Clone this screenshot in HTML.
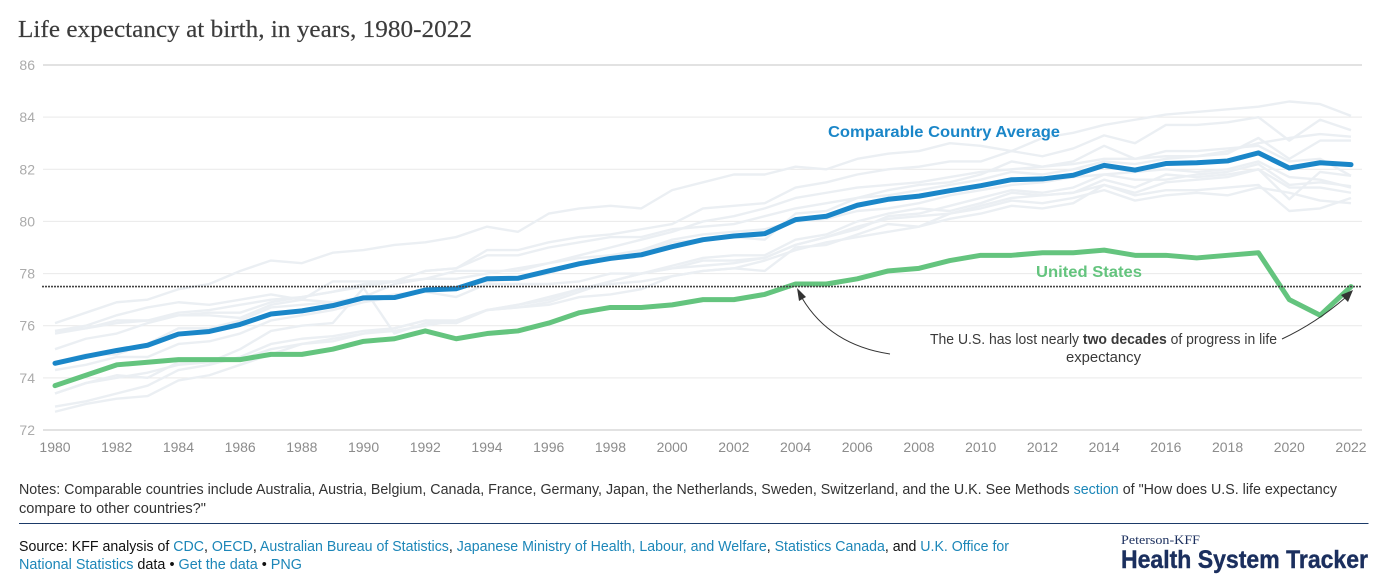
<!DOCTYPE html>
<html lang="en">
<head>
<meta charset="utf-8">
<title>Life expectancy at birth</title>
<style>
html,body{margin:0;padding:0;background:#fff;width:1392px;height:587px;overflow:hidden}
svg{display:block;font-family:"Liberation Sans",sans-serif}
.lnk{fill:#1c86b8}
</style>
</head>
<body>
<svg id="chart" width="1392" height="587" viewBox="0 0 1392 587" xmlns="http://www.w3.org/2000/svg">
  <text x="18" y="37" font-family="'Liberation Serif',serif" font-size="24" fill="#3b3b3b" stroke="#3b3b3b" stroke-width="0.15" textLength="454" lengthAdjust="spacingAndGlyphs">Life expectancy at birth, in years, 1980-2022</text>
  <g id="grid"></g>
  <g id="yticks"></g>
  <g id="xticks"></g>
  <g id="gray"></g>
  <g id="main"></g>
  <g id="ref"></g>
  <text x="828" y="137" font-size="16" font-weight="700" fill="#1a86c8" textLength="232" lengthAdjust="spacingAndGlyphs">Comparable Country Average</text>
  <text x="1036" y="277" font-size="16" font-weight="700" fill="#64c47e" textLength="106" lengthAdjust="spacingAndGlyphs">United States</text>
  <text x="930" y="344" font-size="14.5" fill="#3a3a3a" textLength="347" lengthAdjust="spacingAndGlyphs">The U.S. has lost nearly <tspan font-weight="700">two decades</tspan> of progress in life</text>
  <text x="1066" y="362" font-size="14.5" fill="#3a3a3a" textLength="75" lengthAdjust="spacingAndGlyphs">expectancy</text>
  <g id="arrows"></g>
  <text x="19" y="494" font-size="14.5" fill="#333" textLength="1318" lengthAdjust="spacingAndGlyphs">Notes: Comparable countries include Australia, Austria, Belgium, Canada, France, Germany, Japan, the Netherlands, Sweden, Switzerland, and the U.K. See Methods <tspan class="lnk">section</tspan> of "How does U.S. life expectancy</text>
  <text x="19" y="513" font-size="14.5" fill="#333" textLength="187" lengthAdjust="spacingAndGlyphs">compare to other countries?"</text>
  <rect x="19" y="523" width="1349.5" height="1" fill="#1b3a68"/>
  <text x="19" y="551" font-size="14.5" fill="#111" textLength="990" lengthAdjust="spacingAndGlyphs">Source: KFF analysis of <tspan class="lnk">CDC</tspan>, <tspan class="lnk">OECD</tspan>, <tspan class="lnk">Australian Bureau of Statistics</tspan>, <tspan class="lnk">Japanese Ministry of Health, Labour, and Welfare</tspan>, <tspan class="lnk">Statistics Canada</tspan>, and <tspan class="lnk">U.K. Office for</tspan></text>
  <text x="19" y="569" font-size="14.5" fill="#111" textLength="283" lengthAdjust="spacingAndGlyphs"><tspan class="lnk">National Statistics</tspan> data • <tspan class="lnk">Get the data</tspan> • <tspan class="lnk">PNG</tspan></text>
  <text x="1121" y="544" font-family="'Liberation Serif',serif" font-size="12.5" fill="#1b2f5e" textLength="79" lengthAdjust="spacingAndGlyphs">Peterson-KFF</text>
  <text x="1121" y="568" font-size="25" font-weight="700" fill="#1b2f5e" stroke="#1b2f5e" stroke-width="0.4" textLength="247" lengthAdjust="spacingAndGlyphs">Health System Tracker</text>
</svg>
<script>
const startYear = 1980;
const yTickValues = [86, 84, 82, 80, 78, 76, 74, 72];
const xTickYears = [1980,1982,1984,1986,1988,1990,1992,1994,1996,1998,2000,2002,2004,2006,2008,2010,2012,2014,2016,2018,2020,2022];
const referenceValue = 77.5;

const comparableAverage = [
  74.56,74.82,75.05,75.25,75.68,75.78,76.05,76.45,76.57,76.77,
  77.07,77.08,77.37,77.42,77.80,77.82,78.10,78.38,78.58,78.72,
  79.03,79.30,79.44,79.53,80.07,80.20,80.62,80.85,80.97,81.18,
  81.37,81.60,81.63,81.77,82.15,81.97,82.22,82.25,82.32,82.63,
  82.05,82.25,82.18];
const unitedStates = [
  73.7,74.1,74.5,74.6,74.7,74.7,74.7,74.9,74.9,75.1,
  75.4,75.5,75.8,75.5,75.7,75.8,76.1,76.5,76.7,76.7,
  76.8,77.0,77.0,77.2,77.6,77.6,77.8,78.1,78.2,78.5,
  78.7,78.7,78.8,78.8,78.9,78.7,78.7,78.6,78.7,78.8,
  77.0,76.4,77.5];

const japan = [
  76.1,76.5,76.9,77.0,77.4,77.6,78.1,78.5,78.4,78.8,
  78.9,79.1,79.2,79.4,79.8,79.6,80.3,80.5,80.6,80.5,
  81.2,81.5,81.8,81.8,82.1,82.0,82.4,82.6,82.7,83.0,
  82.9,82.7,83.2,83.4,83.7,83.9,84.1,84.2,84.3,84.4,
  84.6,84.5,84.05];
const switzerland = [
  75.7,75.9,76.2,76.2,76.5,76.6,76.8,77.0,77.1,77.3,
  77.5,77.7,78.1,78.2,78.9,78.9,79.2,79.4,79.5,79.7,
  79.9,80.5,80.6,80.7,81.3,81.5,81.8,82.0,82.1,82.3,
  82.3,82.7,82.5,82.8,83.3,83.0,83.7,83.7,83.8,84.0,
  83.1,83.9,83.5];
const sweden = [
  75.8,76.0,76.4,76.7,76.9,76.8,77.0,77.2,77.0,77.7,
  77.7,77.7,78.1,78.2,78.7,78.7,79.0,79.2,79.4,79.4,
  79.7,79.8,79.9,80.2,80.5,80.7,80.9,81.0,81.2,81.4,
  81.6,81.9,81.8,82.0,82.3,82.2,82.4,82.5,82.6,83.2,
  82.4,83.1,83.1];
const australia = [
  74.6,74.9,74.9,75.3,75.9,75.9,76.2,76.7,76.8,76.9,
  77.1,77.6,77.8,78.1,78.1,78.1,78.4,78.7,79.0,79.3,
  79.6,80.0,80.2,80.5,80.9,81.1,81.3,81.4,81.5,81.7,
  81.9,82.0,82.1,82.2,82.4,82.4,82.5,82.5,82.7,83.0,
  83.2,83.35,83.25];
const canada = [
  75.1,75.5,75.7,76.1,76.4,76.5,76.5,76.9,77.1,77.3,
  77.6,77.7,77.8,77.8,78.0,78.2,78.4,78.6,78.7,78.9,
  79.3,79.5,79.6,79.7,80.0,80.1,80.4,80.5,80.7,81.0,
  81.2,81.4,81.5,81.7,81.8,81.9,82.0,81.9,82.0,82.3,
  81.7,81.6,81.3];
const france = [
  74.3,74.5,74.8,74.8,75.3,75.4,75.7,76.2,76.4,76.6,
  76.9,77.1,77.3,77.4,77.7,77.8,78.0,78.4,78.6,78.8,
  79.2,79.3,79.4,79.3,80.3,80.4,80.9,81.2,81.4,81.5,
  81.8,82.3,82.1,82.3,82.9,82.4,82.7,82.7,82.8,82.9,
  82.3,82.4,81.75];
const netherlands = [
  75.8,75.9,76.1,76.2,76.4,76.4,76.3,76.8,77.0,76.9,
  77.0,77.2,77.3,77.1,77.6,77.6,77.6,77.7,78.0,78.0,
  78.2,78.3,78.4,78.6,79.1,79.4,79.7,80.2,80.3,80.6,
  80.9,81.2,81.1,81.3,81.8,81.6,81.6,81.8,81.9,82.2,
  81.4,81.5,81.35];
const unitedKingdom = [
  73.4,73.8,74.0,74.2,74.5,74.6,74.7,75.1,75.3,75.4,
  75.7,75.9,76.2,76.1,76.6,76.7,76.8,77.1,77.2,77.4,
  77.9,78.1,78.2,78.5,78.9,79.2,79.4,79.6,79.8,80.3,
  80.6,80.9,81.0,81.1,81.4,81.0,81.2,81.2,81.3,81.4,
  80.4,80.5,80.9];
const germany = [
  72.9,73.1,73.4,73.7,74.3,74.5,74.8,75.3,75.5,75.6,
  75.8,75.9,76.2,76.2,76.6,76.7,76.9,77.3,77.7,78.0,
  78.2,78.5,78.5,78.6,79.1,79.4,79.8,80.1,80.2,80.3,
  80.5,80.8,80.7,80.9,81.2,80.8,81.0,81.1,81.0,81.3,
  81.1,80.8,80.7];
const austria = [
  72.7,73.0,73.2,73.3,73.9,74.1,74.5,74.9,75.3,75.5,
  75.7,75.8,76.0,76.2,76.6,76.8,77.1,77.4,77.7,78.0,
  78.3,78.6,78.7,78.7,79.3,79.5,80.0,80.3,80.5,80.4,
  80.7,81.1,81.0,81.1,81.6,81.3,81.8,81.7,81.8,82.0,
  81.3,81.3,81.1];
const belgium = [
  73.4,73.8,74.1,74.0,74.6,74.6,75.1,75.8,76.0,76.1,
  77.45,75.7,76.1,76.1,76.6,76.8,77.0,77.4,77.6,77.7,
  77.9,78.1,78.2,78.1,79.0,79.1,79.5,79.9,79.8,80.1,
  80.3,80.6,80.5,80.7,81.4,81.1,81.5,81.6,81.7,82.0,
  80.85,81.9,81.75];

const grayNames = ['japan','switzerland','sweden','australia','canada','france','netherlands','united-kingdom','germany','austria','belgium'];
const graySeries = [japan,switzerland,sweden,australia,canada,france,netherlands,unitedKingdom,germany,austria,belgium];

const NS = 'http://www.w3.org/2000/svg';
const xScale = year => 55 + (year - 1980) * (1351 - 55) / 42;
const yScale = val => 65 + (86 - val) * (430 - 65) / 14;

function mk(parent, tag, attrs, text) {
  const el = document.createElementNS(NS, tag);
  for (const k in attrs) el.setAttribute(k, attrs[k]);
  if (text !== undefined) el.textContent = text;
  parent.appendChild(el);
  return el;
}
function linePath(values) {
  return values.map((v, i) => (i ? 'L' : 'M') + xScale(startYear + i).toFixed(2) + ' ' + yScale(v).toFixed(2)).join(' ');
}

const grid = document.getElementById('grid');
const yticks = document.getElementById('yticks');
const xticks = document.getElementById('xticks');
yTickValues.forEach(v => {
  const edge = v === 86 || v === 72;
  const ln = mk(grid, 'line', {x1: 43, x2: 1362, y1: yScale(v), y2: yScale(v), stroke: edge ? '#e2e2e2' : '#e9e9e9', 'stroke-width': edge ? 2 : 1});
  
  
  const t = mk(yticks, 'text', {x: 35, y: yScale(v) + 5, 'text-anchor': 'end', 'font-size': 14, fill: '#ababab'}, String(v));
  
  
});
xTickYears.forEach(yr => {
  const t = mk(xticks, 'text', {x: xScale(yr), y: 452, 'text-anchor': 'middle', 'font-size': 14, fill: '#8c8c8c'}, String(yr));
  
  
});

const gray = document.getElementById('gray');
graySeries.forEach((s, i) => {
  const p = mk(gray, 'path', {d: linePath(s), fill: 'none', stroke: '#ebeff3', 'stroke-width': 2.4, 'stroke-linejoin': 'round'});
  
  
});

const main = document.getElementById('main');
const usLine = mk(main, 'path', {d: linePath(unitedStates), fill: 'none', stroke: '#64c47e', 'stroke-width': 5, 'stroke-linejoin': 'round', 'stroke-linecap': 'round'});


const avgLine = mk(main, 'path', {d: linePath(comparableAverage), fill: 'none', stroke: '#1a86c8', 'stroke-width': 5, 'stroke-linejoin': 'round', 'stroke-linecap': 'round'});



const ref = document.getElementById('ref');
const refLine = mk(ref, 'line', {x1: 42, x2: 1362, y1: yScale(referenceValue), y2: yScale(referenceValue), stroke: '#444', 'stroke-width': 1.6, 'stroke-dasharray': '2 1'});



const arrows = document.getElementById('arrows');
const a1 = mk(arrows, 'path', {d: 'M890 354 Q830 345 802 298', fill: 'none', stroke: '#333', 'stroke-width': 1});


const h1 = mk(arrows, 'path', {d: 'M797 288 L806 297 L799 301 Z', fill: '#333'});


const a2 = mk(arrows, 'path', {d: 'M1282 339 Q1316 323 1345 298', fill: 'none', stroke: '#333', 'stroke-width': 1});


const h2 = mk(arrows, 'path', {d: 'M1353 290 L1348 302 L1341 295 Z', fill: '#333'});


</script>
</body>
</html>
